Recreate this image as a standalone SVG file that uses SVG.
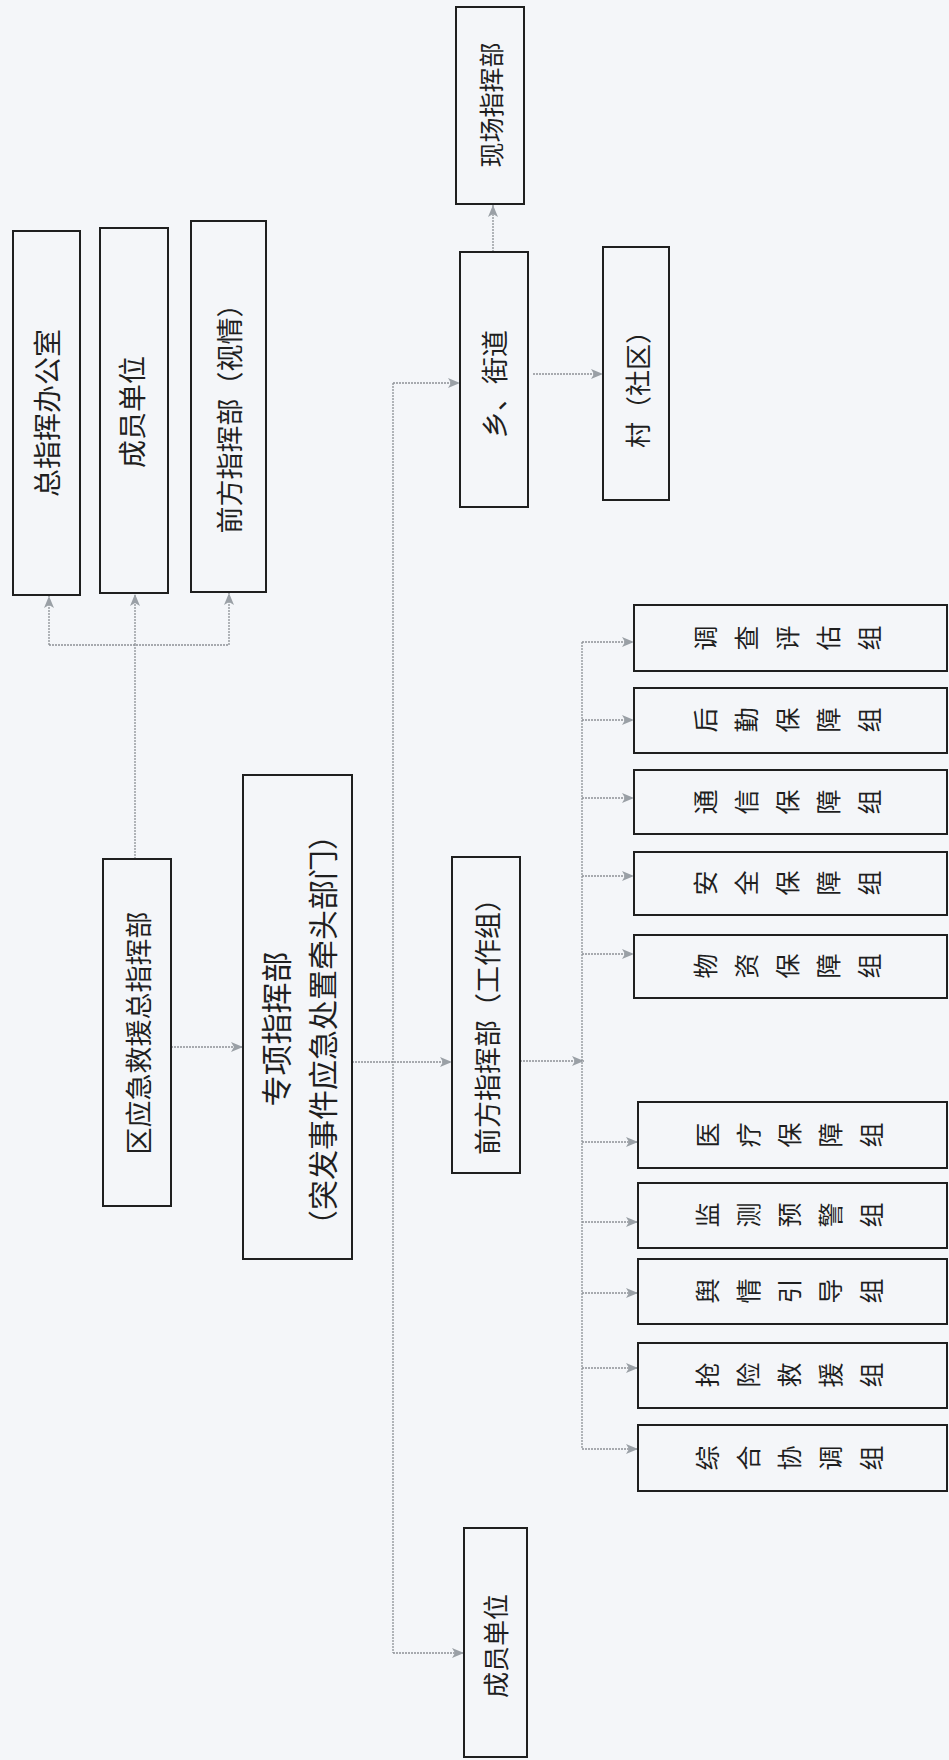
<svg xmlns="http://www.w3.org/2000/svg" width="949" height="1760" viewBox="0 0 949 1760">
<defs>
<style>
.bg{fill:#f4f6f9}
.box{fill:none;stroke:#1f1f1f;stroke-width:2}
.t{font-family:"Noto Sans CJK SC","Noto Sans CJK TC",sans-serif;fill:#1f1f1f;text-anchor:middle;dominant-baseline:central}
.grp{font-family:"Noto Sans CJK SC","Noto Sans CJK TC",sans-serif;fill:#1f1f1f;font-size:25px;writing-mode:vertical-rl;text-anchor:start;letter-spacing:16px}
.c{fill:none;stroke:#8d9196;stroke-width:1.3;stroke-dasharray:2 1}
.ca{fill:none;stroke:#8d9196;stroke-width:1.3;stroke-dasharray:2 1;marker-end:url(#ah)}
</style>
<marker id="ah" viewBox="0 0 12 12" refX="12" refY="6" markerWidth="12" markerHeight="12" markerUnits="userSpaceOnUse" orient="auto">
<path d="M0,1 L12,6 L0,11 L3,6 Z" fill="#9aa0a6"/>
</marker>
</defs>
<rect class="bg" x="0" y="0" width="949" height="1760"/>

<g id="connectors">
<path class="c" d="M135,859 V645 M49,645 H229"/>
<path class="ca" d="M49,645 V596"/>
<path class="ca" d="M135,645 V594"/>
<path class="ca" d="M229,645 V593"/>
<path class="ca" d="M171,1047 H243"/>
<path class="ca" d="M352,1062 H452"/>
<path class="c" d="M393,383 V1653"/>
<path class="ca" d="M393,383 H460"/>
<path class="ca" d="M393,1653 H464"/>
<path class="ca" d="M493,252 V205"/>
<path class="ca" d="M533,374 H603"/>
<path class="ca" d="M520,1061 H584"/>
<path class="c" d="M582,642 V1449"/>
<path class="ca" d="M582,642 H634"/>
<path class="ca" d="M582,720 H634"/>
<path class="ca" d="M582,798 H634"/>
<path class="ca" d="M582,876 H634"/>
<path class="ca" d="M582,954 H634"/>
<path class="ca" d="M582,1142 H638"/>
<path class="ca" d="M582,1222 H638"/>
<path class="ca" d="M582,1293 H638"/>
<path class="ca" d="M582,1368 H638"/>
<path class="ca" d="M582,1449 H638"/>
</g>

<g id="n_zhbgs"><rect class="box" x="13" y="231" width="67" height="364"/><text class="t" font-size="28" transform="translate(46,413) rotate(-90)">总指挥办公室</text></g>
<g id="n_cydw1"><rect class="box" x="100" y="228" width="68" height="365"/><text class="t" font-size="28" transform="translate(131,412) rotate(-90)">成员单位</text></g>
<g id="n_qfzhb_sq"><rect class="box" x="191" y="221" width="75" height="371"/><text class="t" font-size="27" transform="translate(228,412) rotate(-90)">前方指挥部（视情）</text></g>
<g id="n_xczhb"><rect class="box" x="456" y="7" width="68" height="197"/><text class="t" font-size="25" transform="translate(490,105) rotate(-90)">现场指挥部</text></g>
<g id="n_xjd"><rect class="box" x="460" y="252" width="68" height="255"/><text class="t" font-size="27" transform="translate(493,384) rotate(-90)">乡、街道</text></g>
<g id="n_cun"><rect class="box" x="603" y="247" width="66" height="253"/><text class="t" font-size="26" transform="translate(636,383) rotate(-90)">村（社区）</text></g>
<g id="n_qzzhb"><rect class="box" x="103" y="859" width="68" height="347"/><text class="t" font-size="27" transform="translate(137,1033) rotate(-90)">区应急救援总指挥部</text></g>
<g id="n_zxzhb"><rect class="box" x="243" y="775" width="109" height="484"/><text class="t" font-size="31" transform="translate(274,1029) rotate(-90)">专项指挥部</text><text class="t" font-size="30" transform="translate(321,1030) rotate(-90)">（突发事件应急处置牵头部门）</text></g>
<g id="n_qfzhb_gz"><rect class="box" x="452" y="857" width="68" height="316"/><text class="t" font-size="27" transform="translate(486,1020) rotate(-90)">前方指挥部（工作组）</text></g>
<g id="n_cydw2"><rect class="box" x="464" y="1528" width="63" height="229"/><text class="t" font-size="26" transform="translate(494,1646) rotate(-90)">成员单位</text></g>

<g id="n_dcpg"><rect class="box" x="634" y="605" width="313" height="66"/><text class="grp" transform="translate(693,638) rotate(-90)">调查评估组</text></g>
<g id="n_hqbz"><rect class="box" x="634" y="688" width="313" height="65"/><text class="grp" transform="translate(693,720) rotate(-90)">后勤保障组</text></g>
<g id="n_txbz"><rect class="box" x="634" y="770" width="313" height="64"/><text class="grp" transform="translate(693,802) rotate(-90)">通信保障组</text></g>
<g id="n_aqbz"><rect class="box" x="634" y="852" width="313" height="63"/><text class="grp" transform="translate(693,883) rotate(-90)">安全保障组</text></g>
<g id="n_wzbz"><rect class="box" x="634" y="935" width="313" height="63"/><text class="grp" transform="translate(693,966) rotate(-90)">物资保障组</text></g>
<g id="n_ylbz"><rect class="box" x="638" y="1102" width="309" height="66"/><text class="grp" transform="translate(695,1135) rotate(-90)">医疗保障组</text></g>
<g id="n_jcyj"><rect class="box" x="638" y="1183" width="309" height="65"/><text class="grp" transform="translate(695,1215) rotate(-90)">监测预警组</text></g>
<g id="n_yqyd"><rect class="box" x="638" y="1259" width="309" height="65"/><text class="grp" transform="translate(695,1291) rotate(-90)">舆情引导组</text></g>
<g id="n_qxjy"><rect class="box" x="638" y="1343" width="309" height="65"/><text class="grp" transform="translate(695,1375) rotate(-90)">抢险救援组</text></g>
<g id="n_zhxt"><rect class="box" x="638" y="1425" width="309" height="66"/><text class="grp" transform="translate(695,1458) rotate(-90)">综合协调组</text></g>
</svg>
